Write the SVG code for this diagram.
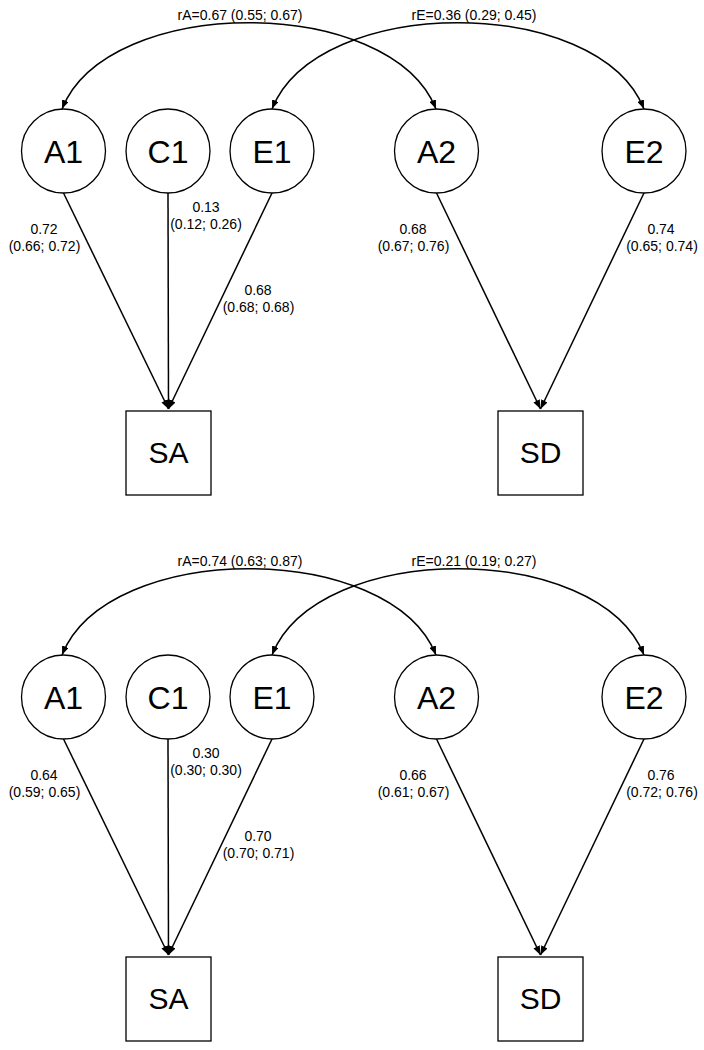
<svg xmlns="http://www.w3.org/2000/svg" width="704" height="1050" viewBox="0 0 704 1050">
<style>
.bg{fill:#ffffff}
.lat{fill:#ffffff;stroke:#000;stroke-width:1.3}
.obs{fill:#ffffff;stroke:#000;stroke-width:1.3}
.edge{fill:none;stroke:#000;stroke-width:1.5}
.nl{font-family:"Liberation Sans",Arial,sans-serif;font-size:32px;text-anchor:middle;fill:#000}
.bl{font-family:"Liberation Sans",Arial,sans-serif;font-size:30px;text-anchor:middle;fill:#000}
.el{font-family:"Liberation Sans",Arial,sans-serif;font-size:14px;text-anchor:middle;fill:#000}
</style>
<defs>
<marker id="ah" viewBox="0 0 9 7" refX="9" refY="3.5" markerWidth="9" markerHeight="7" markerUnits="userSpaceOnUse" orient="auto-start-reverse">
<path d="M0,0 L9,3.5 L0,7 z" fill="#000"/>
</marker>
</defs>
<rect class="bg" x="0" y="0" width="704" height="1050"/>

<g id="panel1">
<g id="p1-connectors">
<path class="edge" d="M62,109 C108,-6 390,-6 436,109" marker-start="url(#ah)" marker-end="url(#ah)"/>
<path class="edge" d="M272,109 C318,-6 598,-6 644,109" marker-start="url(#ah)" marker-end="url(#ah)"/>
<path class="edge" d="M63.5,193 L168.5,409" marker-end="url(#ah)"/>
<path class="edge" d="M168,193 L168.5,409" marker-end="url(#ah)"/>
<path class="edge" d="M272,193 L168.5,409" marker-end="url(#ah)"/>
<path class="edge" d="M436.5,193 L540.5,409" marker-end="url(#ah)"/>
<path class="edge" d="M644,193 L540.5,409" marker-end="url(#ah)"/>
<text class="el" x="240" y="20">rA=0.67 (0.55; 0.67)</text>
<text class="el" x="474" y="20">rE=0.36 (0.29; 0.45)</text>
<text class="el" x="44" y="234">0.72</text>
<text class="el" x="44.5" y="251">(0.66; 0.72)</text>
<text class="el" x="206" y="212">0.13</text>
<text class="el" x="206" y="229">(0.12; 0.26)</text>
<text class="el" x="258" y="295">0.68</text>
<text class="el" x="258.5" y="312">(0.68; 0.68)</text>
<text class="el" x="413" y="234">0.68</text>
<text class="el" x="413.5" y="251">(0.67; 0.76)</text>
<text class="el" x="661" y="234">0.74</text>
<text class="el" x="662" y="251">(0.65; 0.74)</text>
</g>
<g id="p1-A1"><circle class="lat" cx="63.5" cy="151" r="42"/><text class="nl" x="63.5" y="163">A1</text></g>
<g id="p1-C1"><circle class="lat" cx="168" cy="151" r="42"/><text class="nl" x="168" y="163">C1</text></g>
<g id="p1-E1"><circle class="lat" cx="272" cy="151" r="42"/><text class="nl" x="272" y="163">E1</text></g>
<g id="p1-A2"><circle class="lat" cx="436.5" cy="151" r="42"/><text class="nl" x="436.5" y="163">A2</text></g>
<g id="p1-E2"><circle class="lat" cx="644" cy="151" r="42"/><text class="nl" x="644" y="163">E2</text></g>
<g id="p1-SA"><rect class="obs" x="126" y="411" width="85" height="84"/><text class="bl" x="168.5" y="463">SA</text></g>
<g id="p1-SD"><rect class="obs" x="498" y="411" width="85" height="84"/><text class="bl" x="540.5" y="463">SD</text></g>
</g>

<g id="panel2" transform="translate(0,546)">
<g id="p2-connectors">
<path class="edge" d="M62,109 C108,-6 390,-6 436,109" marker-start="url(#ah)" marker-end="url(#ah)"/>
<path class="edge" d="M272,109 C318,-6 598,-6 644,109" marker-start="url(#ah)" marker-end="url(#ah)"/>
<path class="edge" d="M63.5,193 L168.5,409" marker-end="url(#ah)"/>
<path class="edge" d="M168,193 L168.5,409" marker-end="url(#ah)"/>
<path class="edge" d="M272,193 L168.5,409" marker-end="url(#ah)"/>
<path class="edge" d="M436.5,193 L540.5,409" marker-end="url(#ah)"/>
<path class="edge" d="M644,193 L540.5,409" marker-end="url(#ah)"/>
<text class="el" x="240" y="20">rA=0.74 (0.63; 0.87)</text>
<text class="el" x="474" y="20">rE=0.21 (0.19; 0.27)</text>
<text class="el" x="44" y="234">0.64</text>
<text class="el" x="44.5" y="251">(0.59; 0.65)</text>
<text class="el" x="206" y="212">0.30</text>
<text class="el" x="206" y="229">(0.30; 0.30)</text>
<text class="el" x="258" y="295">0.70</text>
<text class="el" x="258.5" y="312">(0.70; 0.71)</text>
<text class="el" x="413" y="234">0.66</text>
<text class="el" x="413.5" y="251">(0.61; 0.67)</text>
<text class="el" x="661" y="234">0.76</text>
<text class="el" x="662" y="251">(0.72; 0.76)</text>
</g>
<g id="p2-A1"><circle class="lat" cx="63.5" cy="151" r="42"/><text class="nl" x="63.5" y="163">A1</text></g>
<g id="p2-C1"><circle class="lat" cx="168" cy="151" r="42"/><text class="nl" x="168" y="163">C1</text></g>
<g id="p2-E1"><circle class="lat" cx="272" cy="151" r="42"/><text class="nl" x="272" y="163">E1</text></g>
<g id="p2-A2"><circle class="lat" cx="436.5" cy="151" r="42"/><text class="nl" x="436.5" y="163">A2</text></g>
<g id="p2-E2"><circle class="lat" cx="644" cy="151" r="42"/><text class="nl" x="644" y="163">E2</text></g>
<g id="p2-SA"><rect class="obs" x="126" y="411" width="85" height="84"/><text class="bl" x="168.5" y="463">SA</text></g>
<g id="p2-SD"><rect class="obs" x="498" y="411" width="85" height="84"/><text class="bl" x="540.5" y="463">SD</text></g>
</g>
</svg>
